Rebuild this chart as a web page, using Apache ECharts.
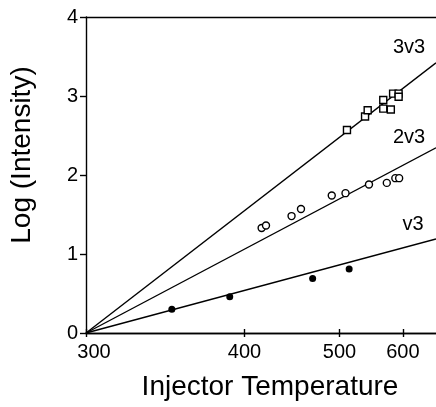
<!DOCTYPE html>
<html>
<head>
<meta charset="utf-8">
<script src="https://cdn.jsdelivr.net/npm/echarts@6/dist/echarts.min.js"></script>
<style>
html,body{margin:0;padding:0;background:#fff;}
#chart{width:436px;height:407px;}
</style>
</head>
<body>
<div id="chart"></div>
<script>
// ---- data (temperature, log intensity) ----
const xTickTemps = [300, 400, 500, 600];
const yTicks = [0, 1, 2, 3, 4];
const tempRange = [300, 670];

const temp3v3 = [510, 536, 540, 565, 565, 578, 582, 592, 592];
const log3v3  = [2.57, 2.74, 2.82, 2.95, 2.84, 2.83, 3.03, 3.03, 2.99];

const temp2v3 = [415, 419, 444, 454, 490, 508, 542, 571, 586, 593];
const log2v3  = [1.33, 1.36, 1.48, 1.57, 1.74, 1.77, 1.88, 1.90, 1.96, 1.96];

const tempV3 = [347, 388, 467, 513];
const logV3  = [0.30, 0.46, 0.69, 0.81];

const fitTemps = [300, 670];
const fit3v3 = [0, 3.42];
const fit2v3 = [0, 2.345];
const fitV3  = [0, 1.19];

const seriesNames = ['3v3', '2v3', 'v3'];
const labelTemps = [612, 612, 620];
const labelLogs  = [3.62, 2.48, 1.37];

// reciprocal temperature scale (Arrhenius-type axis)
const inv = t => 1000 / t;
const pts = (ts, vs) => ts.map((t, i) => [inv(t), vs[i]]);

const FONT = '"Liberation Sans", Arial, Helvetica, sans-serif';
const INK = '#000';

const chart = echarts.init(document.getElementById('chart'), null, {renderer: 'canvas'});

const baseX = {
  type: 'value',
  inverse: true,
  min: inv(tempRange[1]),
  max: inv(tempRange[0]),
  splitLine: {show: false},
  axisLine: {show: true, onZero: false, lineStyle: {color: INK, width: 1.4}}
};

chart.setOption({
  animation: false,
  backgroundColor: '#fff',
  grid: {left: 86, right: 0, top: 17, bottom: 74, containLabel: false},
  xAxis: [
    Object.assign({}, baseX, {
      position: 'bottom',
      name: 'Injector Temperature',
      nameLocation: 'middle',
      nameGap: 40,
      nameTextStyle: {fontFamily: FONT, fontSize: 28, color: INK, padding: [0, 0, 0, 18]},
      axisTick: {show: true, inside: true, length: 4, customValues: xTickTemps.map(inv), lineStyle: {color: INK, width: 1.4}},
      axisLabel: {
        show: true,
        customValues: xTickTemps.map(inv),
        margin: 9,
        fontFamily: FONT, fontSize: 20, color: INK,
        formatter: v => {
          const t = Math.round(1000 / v);
          return t === xTickTemps[0] ? '{p|' + t + '}' : String(t);
        },
        rich: {p: {fontFamily: FONT, fontSize: 20, color: INK, padding: [0, 0, 0, 16]}}
      }
    }),
    Object.assign({}, baseX, {
      position: 'bottom',
      axisTick: {show: true, inside: false, length: 4, customValues: xTickTemps.map(inv), lineStyle: {color: INK, width: 1.4}},
      axisLabel: {show: false}
    }),
    Object.assign({}, baseX, {
      position: 'top',
      axisTick: {show: false},
      axisLabel: {show: false}
    })
  ],
  yAxis: {
    type: 'value',
    min: yTicks[0],
    max: yTicks[yTicks.length - 1],
    interval: 1,
    name: 'Log (Intensity)',
    nameLocation: 'middle',
    nameGap: 50,
    nameTextStyle: {fontFamily: FONT, fontSize: 28, color: INK, padding: [0, 0, 0, 40]},
    splitLine: {show: false},
    axisLine: {show: true, onZero: false, lineStyle: {color: INK, width: 1.4}},
    axisTick: {show: true, inside: false, length: 6, lineStyle: {color: INK, width: 1.4}},
    axisLabel: {margin: 8, fontFamily: FONT, fontSize: 20, color: INK}
  },
  series: [
    {type: 'line', xAxisIndex: 0, data: pts(fitTemps, fit3v3), symbol: 'none', lineStyle: {color: INK, width: 1.4}, z: 2},
    {type: 'line', xAxisIndex: 0, data: pts(fitTemps, fit2v3), symbol: 'none', lineStyle: {color: INK, width: 1.4}, z: 2},
    {type: 'line', xAxisIndex: 0, data: pts(fitTemps, fitV3),  symbol: 'none', lineStyle: {color: INK, width: 1.4}, z: 2},
    {type: 'scatter', name: seriesNames[0], xAxisIndex: 0, data: pts(temp3v3, log3v3), symbol: 'rect', symbolSize: 7,
     itemStyle: {color: '#fff', borderColor: INK, borderWidth: 1.4, opacity: 1}, z: 3},
    {type: 'scatter', name: seriesNames[1], xAxisIndex: 0, data: pts(temp2v3, log2v3), symbol: 'circle', symbolSize: 7,
     itemStyle: {color: '#fff', borderColor: INK, borderWidth: 1.4, opacity: 1}, z: 3},
    {type: 'scatter', name: seriesNames[2], xAxisIndex: 0, data: pts(tempV3, logV3), symbol: 'circle', symbolSize: 7,
     itemStyle: {color: INK, opacity: 1}, z: 3},
    {type: 'scatter', xAxisIndex: 0, silent: true, symbolSize: 1,
     itemStyle: {opacity: 0},
     data: pts(labelTemps, labelLogs).map((p, i) => ({value: p, name: seriesNames[i]})),
     label: {show: true, position: 'inside', formatter: p => p.name, fontFamily: FONT, fontSize: 20,
             color: INK, opacity: 1, textBorderWidth: 0},
     z: 4}
  ]
});
</script>
</body>
</html>
